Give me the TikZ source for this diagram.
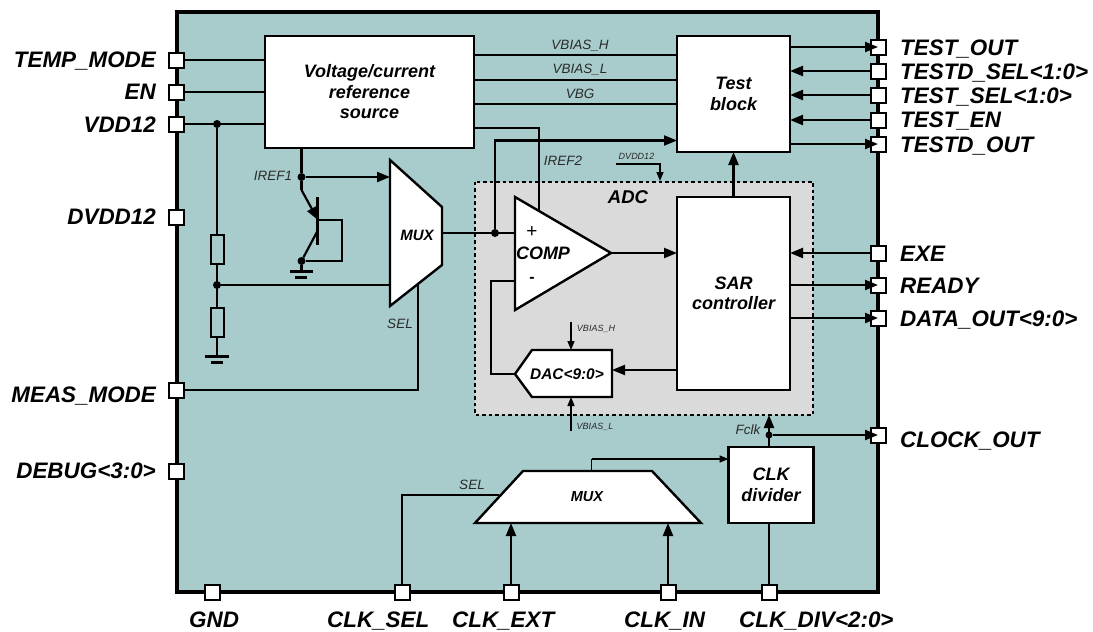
\documentclass[tikz,border=0pt]{standalone}
\usepackage{fontspec}
\setmainfont{Liberation Sans}
\usetikzlibrary{arrows.meta,calc}
\definecolor{chipbg}{HTML}{A8CBCB}
\definecolor{adcbg}{HTML}{DADADA}
\definecolor{smalltxt}{HTML}{2A2A2A}
\tikzset{
  x=1pt,y=-1pt,
  wire/.style={line width=2.2pt,line join=miter},
  awire/.style={wire,-{Triangle[length=13pt,width=10pt]}},
  thinwire/.style={line width=1.5pt},
  athinwire/.style={thinwire,-{Triangle[length=9pt,width=7pt]}},
  pinbox/.style={draw=black,fill=white,line width=2pt,minimum width=15pt,minimum height=15pt,inner sep=0pt,outer sep=0pt},
  blockbox/.style={draw=black,fill=white,line width=2.4pt,inner sep=0pt,outer sep=0pt},
  shapebox/.style={draw=black,fill=white,line width=2.4pt,line join=miter},
  pinlabel/.style={font=\fontsize{22.4}{24}\selectfont\bfseries\itshape,inner sep=0pt,anchor=base west},
  leftlabel/.style={pinlabel,anchor=base east},
  blocklabel/.style={font=\fontsize{18}{20.5}\selectfont\bfseries\itshape,align=center,inner sep=0pt},
  siglabel/.style={font=\fontsize{13.5}{15}\selectfont\itshape,text=smalltxt,inner sep=0pt},
  tinylabel/.style={font=\fontsize{9}{11}\selectfont\itshape,text=smalltxt,inner sep=0pt},
  jdot/.style={circle,fill=black,minimum size=8pt,inner sep=0pt,outer sep=0pt},
  resbox/.style={draw=black,fill=chipbg,line width=2pt,minimum width=13pt,minimum height=29pt,inner sep=0pt,outer sep=0pt},
}
\begin{document}
\begin{tikzpicture}
\useasboundingbox (0,0) rectangle (1093,632);
\fill[white] (0,0) rectangle (1093,632);
% chip body
\draw[fill=chipbg,line width=4pt] (177,12) rectangle (878,592);
% ADC region
\draw[fill=adcbg,line width=2pt,dash pattern=on 3.5pt off 3pt] (474.5,181.5) rectangle (813,414.5);
% pins
\foreach \n/\y in {pTemp/60,pEn/92,pVdd/124,pDvdd/217,pMeas/390,pDebug/471}
  \node[pinbox] (\n) at (176.5,\y) {};
\foreach \n/\y in {pTestOut/47,pDSel/71,pTSel/95,pTEn/120,pDOut/144,pExe/253,pReady/285,pData/318,pClkOut/435}
  \node[pinbox] (\n) at (878,\y) {};
\foreach \n/\x in {pGnd/212,pClkSel/402,pClkExt/511,pClkIn/668,pClkDiv/769}
  \node[pinbox] (\n) at (\x,592) {};
% pin labels
\node[leftlabel] (lTemp) at (156,67) {TEMP\_MODE};
\node[leftlabel] (lEn) at (156,99) {EN};
\node[leftlabel] (lVdd) at (156,132) {VDD12};
\node[leftlabel] (lDvdd) at (156,224) {DVDD12};
\node[leftlabel] (lMeas) at (156,402) {MEAS\_MODE};
\node[leftlabel] (lDebug) at (156,478) {DEBUG<3:0>};
\node[pinlabel] (lTestOut) at (900,55) {TEST\_OUT};
\node[pinlabel] (lDSel) at (900,79) {TESTD\_SEL<1:0>};
\node[pinlabel] (lTSel) at (900,103) {TEST\_SEL<1:0>};
\node[pinlabel] (lTEn) at (900,127) {TEST\_EN};
\node[pinlabel] (lDOut) at (900,152) {TESTD\_OUT};
\node[pinlabel] (lExe) at (900,261) {EXE};
\node[pinlabel] (lReady) at (900,293) {READY};
\node[pinlabel] (lData) at (900,326) {DATA\_OUT<9:0>};
\node[pinlabel] (lClkOut) at (900,447) {CLOCK\_OUT};
\node[pinlabel] (lGnd) at (189,627) {GND};
\node[pinlabel] (lClkSel) at (327,627) {CLK\_SEL};
\node[pinlabel] (lClkExt) at (452,627) {CLK\_EXT};
\node[pinlabel] (lClkIn) at (624,627) {CLK\_IN};
\node[pinlabel] (lClkDiv) at (739,627) {CLK\_DIV<2:0>};
% blocks
\node[blockbox,minimum width=209pt,minimum height=112pt,blocklabel] (ref) at (369.5,92) {Voltage/current\\reference\\source};
\node[blockbox,minimum width=113pt,minimum height=116pt,blocklabel] (test) at (733.5,94) {Test\\block};
\node[blockbox,minimum width=113pt,minimum height=193pt,blocklabel] (sar) at (733.5,293.5) {SAR\\controller};
\node[blockbox,minimum width=85pt,minimum height=76pt,blocklabel] (div) at (771,485) {CLK\\divider};
% wires behind polygons
\node[resbox] (r1) at (217,249) {};
\node[resbox] (r2) at (217,322) {};
\node[jdot] (jVdd) at (217,124) {};
\node[jdot] (jDiv) at (217,285) {};
\coordinate (g1) at (217,356);
\coordinate (g2) at (301.5,272);
\node[jdot] (jIref) at (301.5,177) {};
\node[jdot] (jGnd) at (301.5,261) {};
\coordinate (tE) at (318,220);
\coordinate (tEin) at (301.5,190);
\coordinate (tC) at (318,230);
\coordinate (tLoop) at (342,220);
\coordinate (muxTop) at (390,160);
\node[jdot] (jMux) at (495,233) {};
\coordinate (selTurn) at (418,390);
\coordinate (selEnd) at (418,284);
\coordinate (iref2a) at (539,128);
\coordinate (iref2b) at (539,211);
\coordinate (fbA) at (491,281);
\coordinate (fbB) at (491,374);
\coordinate (cmpMinus) at (515,281);
\coordinate (cmpPlus) at (515,233);
\coordinate (cmpOut) at (611,253);
\coordinate (dacTip) at (515,374);
\coordinate (dacR) at (612,370);
\coordinate (clkSelTurn) at (402,495);
\coordinate (clkSelEnd) at (499,495);
\coordinate (mOutA) at (591.5,471);
\coordinate (mOutB) at (591.5,459);
\coordinate (mIn1) at (511,523);
\coordinate (mIn2) at (668,523);
\node[jdot,minimum size=7pt] (jClk) at (769,435) {};
\coordinate (adcBot) at (769,415);
\draw[wire] (pTemp.east) -- (pTemp -| ref.west);
\draw[wire] (pEn.east) -- (pEn -| ref.west);
\draw[wire] (pVdd.east) -- (pVdd -| ref.west);
\draw[wire] (jVdd) -- (r1.north);
\draw[wire] (r1.south) -- (r2.north);
\draw[wire] (r2.south) -- (g1);
\draw[wire] (jDiv) -- (jDiv -| muxTop);
\draw[wire] (ref.south -| jIref) -- (jIref);
\draw[awire] (jIref) -- (jIref -| muxTop);
\draw[wire] (jIref) -- (tEin);
\draw[awire] (tEin) -- (tE);
\draw[wire] (tC) -- (jGnd);
\draw[wire] (tE) -- (tLoop) |- (jGnd);
\draw[wire] (jGnd) -- (g2);
\draw[wire] (317.5,197) -- (317.5,245);
\draw[wire] (pMeas.east) -- (selTurn) -- (selEnd);
\draw[wire] (442,233) -- (cmpPlus);
\draw[awire] (jMux) |- (test.west |- 0,140.5);
\draw[wire] (ref.east |- iref2a) -- (iref2a) -- (iref2b);
\draw[wire] (cmpMinus) -- (fbA) -- (fbB) -- (dacTip);
\draw[awire] (cmpOut) -- (cmpOut -| sar.west);
\draw[awire] (sar.west |- dacR) -- (dacR);
\draw[awire] (sar.north) -- (test.south);
\draw[wire] (clkSelTurn |- pClkSel.north) -- (clkSelTurn) -- (clkSelEnd);
\draw[awire] (pClkExt.north) -- (mIn1);
\draw[awire] (pClkIn.north) -- (mIn2);
\draw[wire] (pClkDiv.north) -- (pClkDiv |- div.south);
\draw[awire] (jClk |- div.north) -- (adcBot);
\draw[awire] (jClk) -- (pClkOut.center);
\draw[thinwire] (mOutA) -- (mOutB);
\draw[athinwire] (mOutB) -- (mOutB -| div.west);
% bias buses
\draw[wire] (ref.east |- 0,55) -- (test.west |- 0,55);
\draw[wire] (ref.east |- 0,80) -- (test.west |- 0,80);
\draw[wire] (ref.east |- 0,104) -- (test.west |- 0,104);
% right side
\draw[awire] (test.east |- pTestOut) -- (pTestOut.center);
\draw[awire] (pDSel.west) -- (pDSel -| test.east);
\draw[awire] (pTSel.west) -- (pTSel -| test.east);
\draw[awire] (pTEn.west) -- (pTEn -| test.east);
\draw[awire] (test.east |- pDOut) -- (pDOut.center);
\draw[awire] (pExe.west) -- (pExe -| sar.east);
\draw[awire] (sar.east |- pReady) -- (pReady.center);
\draw[awire] (sar.east |- pData) -- (pData.center);
% ground symbols
\draw[wire] (205,356.5) -- (229,356.5);
\draw[wire] (211,362.5) -- (223,362.5);
\draw[wire] (290,271.5) -- (313,271.5);
\draw[wire] (295,277.5) -- (307,277.5);
% polygons
\draw[shapebox] (390,160) -- (442,207) -- (442,265) -- (390,306) -- cycle;
\node[font=\fontsize{15}{18}\selectfont\bfseries\itshape,inner sep=0pt] (muxA) at (417,235) {MUX};
\draw[shapebox] (515,197) -- (611,253) -- (515,310) -- cycle;
\node[blocklabel] (cmpLabel) at (543,253.5) {COMP};
\node[font=\fontsize{19}{20}\selectfont,inner sep=0pt] (plusT) at (532,232) {+};
\node[font=\fontsize{16}{20}\selectfont\bfseries,inner sep=0pt] (minusT) at (532,280) {-};
\draw[shapebox] (515,374) -- (532,350) -- (612,350) -- (612,397) -- (532,397) -- cycle;
\node[font=\fontsize{15.4}{16}\selectfont\bfseries\itshape,inner sep=0pt] (dacL) at (567,374) {DAC<9:0>};
\draw[shapebox] (523,471) -- (652,471) -- (701,523) -- (475,523) -- cycle;
\node[font=\fontsize{14.5}{16}\selectfont\bfseries\itshape,inner sep=0pt] (muxB) at (587,497) {MUX};
\node[font=\fontsize{18.5}{20}\selectfont\bfseries\itshape,inner sep=0pt] (adcL) at (628,197) {ADC};
% tiny arrows
\coordinate (vhA) at (571,322);
\coordinate (vhB) at (571,350);
\coordinate (vlA) at (571,431);
\coordinate (vlB) at (571,397);
\coordinate (dvA) at (616,164);
\coordinate (dvC) at (660,181);
\draw[athinwire] (vhA) -- (vhB);
\draw[athinwire] (vlA) -- (vlB);
\draw[athinwire] (dvA) -| (dvC);
% signal labels
\node[siglabel] (tVH) at (580,46) {VBIAS\_H};
\node[siglabel] (tVL) at (580,70) {VBIAS\_L};
\node[siglabel] (tVG) at (580,94) {VBG};
\node[siglabel] (tI1) at (273,176) {IREF1};
\node[siglabel] (tI2) at (563,161) {IREF2};
\node[siglabel] (tS1) at (400,324) {SEL};
\node[siglabel] (tS2) at (472,485) {SEL};
\node[siglabel] (tF) at (748,430) {Fclk};
\node[tinylabel] (tDv) at (636.5,156) {DVDD12};
\node[tinylabel] (tVH2) at (596,329) {VBIAS\_H};
\node[tinylabel] (tVL2) at (595,427) {VBIAS\_L};
\end{tikzpicture}
\end{document}
